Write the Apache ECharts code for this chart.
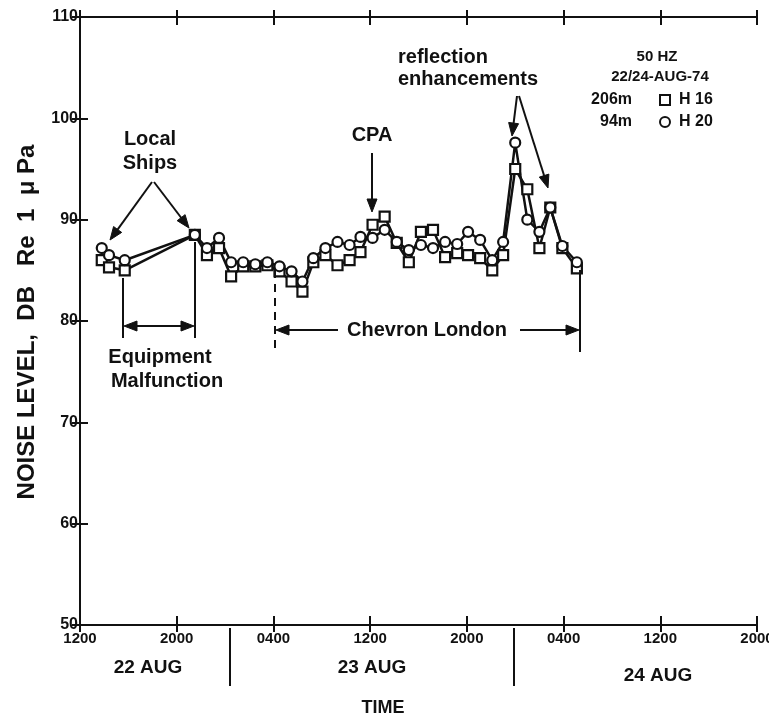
<!DOCTYPE html>
<html><head><meta charset="utf-8">
<script src="https://cdn.jsdelivr.net/npm/echarts@6/dist/echarts.min.js"></script>
<style>html,body{margin:0;padding:0;background:#fff}#c{width:769px;height:720px}</style>
</head><body><div id="c"></div>
<script>
// ---- data (hours after 22 AUG 1200) ----
const hours = [1.8, 2.4, 3.7, 9.5, 10.5, 11.5, 12.5, 13.5, 14.5, 15.5, 16.5, 17.5,
  18.4, 19.3, 20.3, 21.3, 22.3, 23.2, 24.2, 25.2, 26.2, 27.2, 28.2, 29.2, 30.2, 31.2,
  32.1, 33.1, 34.1, 35.0, 36.0, 37.0, 38.0, 38.9, 39.9, 41.1];
const h16 = [86.0, 85.3, 85.0, 88.5, 86.5, 87.2, 84.4, 85.4, 85.4, 85.5, 84.9, 83.9,
  82.9, 85.8, 86.5, 85.5, 86.0, 86.8, 89.5, 90.3, 87.7, 85.8, 88.8, 89.0, 86.3, 86.7,
  86.5, 86.2, 85.0, 86.5, 95.0, 93.0, 87.2, 91.2, 87.2, 85.2];
const h20 = [87.2, 86.5, 86.0, 88.5, 87.2, 88.2, 85.8, 85.8, 85.6, 85.8, 85.4, 84.9,
  83.9, 86.2, 87.2, 87.8, 87.5, 88.3, 88.2, 89.0, 87.8, 87.0, 87.5, 87.2, 87.8, 87.6,
  88.8, 88.0, 86.0, 87.8, 97.6, 90.0, 88.8, 91.2, 87.4, 85.8];
const xTickLabels = ['1200', '2000', '0400', '1200', '2000', '0400', '1200', '2000'];
const dayLabels = ['22 AUG', '23 AUG', '24 AUG'];
const seriesNames = ['206m  H 16', '94m  H 20'];

const INK = '#111';
const FONT = '"Liberation Sans", Arial, Helvetica, sans-serif';

function xAx(pos, inside, len, label, line) {
  return {
    type: 'value', position: pos, min: 0, max: 56, interval: 8, offset: 0,
    axisLine: { show: line, lineStyle: { color: INK, width: 2 } },
    axisTick: { show: true, inside: inside, length: len, lineStyle: { color: INK, width: 2 } },
    axisLabel: {
      show: label, margin: 6, color: INK, fontFamily: FONT, fontWeight: 'bold', fontSize: 15,
      formatter: v => xTickLabels[Math.round(v / 8)]
    },
    splitLine: { show: false }
  };
}
function yAx(pos, inside, len, label, line) {
  return {
    type: 'value', position: pos, min: 50, max: 110, interval: 10, offset: 0,
    axisLine: { show: line, lineStyle: { color: INK, width: 2 } },
    axisTick: { show: true, inside: inside, length: len, lineStyle: { color: INK, width: 2 } },
    axisLabel: { show: label, margin: 2, color: INK, fontFamily: FONT, fontWeight: 'bold', fontSize: 16 },
    splitLine: { show: false }
  };
}

function txt(t, x, y, size, align) {
  return {
    type: 'text', z: 100, x: x, y: y,
    style: { text: t, font: 'bold ' + size + 'px ' + FONT, fill: INK,
      align: align || 'center', verticalAlign: 'middle',
      textAlign: align || 'center', textVerticalAlign: 'middle' }
  };
}
function seg(x1, y1, x2, y2, dash) {
  return { type: 'line', z: 100, shape: { x1, y1, x2, y2 },
    style: { stroke: INK, lineWidth: 2, lineDash: dash || null } };
}
function arrow(x1, y1, x2, y2) {
  const L = 13, W = 5;
  const dx = x2 - x1, dy = y2 - y1, d = Math.hypot(dx, dy);
  const ux = dx / d, uy = dy / d;
  const bx = x2 - ux * L, by = y2 - uy * L;
  return [
    seg(x1, y1, bx + ux * 2, by + uy * 2),
    { type: 'polygon', z: 100, shape: { points: [[x2, y2], [bx - uy * W, by + ux * W], [bx + uy * W, by - ux * W]] },
      style: { fill: INK, stroke: INK, lineWidth: 1 } }
  ];
}

const graphics = [].concat(
  // y axis title
  [{ type: 'text', z: 100, x: 27, y: 322, rotation: Math.PI / 2,
     style: { text: 'NOISE LEVEL,  DB   Re  1  \u03bc Pa', font: 'bold 24px ' + FONT, fill: INK,
       align: 'center', verticalAlign: 'middle', textAlign: 'center', textVerticalAlign: 'middle' } }],
  // day labels + dividers
  [txt(dayLabels[0], 148, 668, 19), txt(dayLabels[1], 372, 668, 19), txt(dayLabels[2], 658, 676, 19),
   txt('TIME', 383, 708, 18),
   seg(230, 628, 230, 686), seg(514, 628, 514, 686)],
  // legend block
  [txt('50 HZ', 657, 57, 15), txt('22/24-AUG-74', 660, 77, 15),
   txt('206m', 632, 100, 16, 'right'), txt('H 16', 679, 100, 16, 'left'),
   txt('94m', 632, 122, 16, 'right'), txt('H 20', 679, 122, 16, 'left'),
   { type: 'rect', z: 100, shape: { x: 660, y: 95, width: 10, height: 10 }, style: { fill: '#fff', stroke: INK, lineWidth: 2 } },
   { type: 'circle', z: 100, shape: { cx: 665, cy: 122, r: 5 }, style: { fill: '#fff', stroke: INK, lineWidth: 2 } }],
  // Local Ships
  [txt('Local', 150, 139, 20), txt('Ships', 150, 163, 20)],
  arrow(152, 182, 110, 240), arrow(154, 182, 189, 228),
  // CPA
  [txt('CPA', 372, 135, 20)], arrow(372, 153, 372, 212),
  // reflection enhancements
  [txt('reflection', 398, 57, 20, 'left'), txt('enhancements', 398, 79, 20, 'left')],
  arrow(517, 96, 512, 136), arrow(519, 96, 548, 188),
  // Equipment Malfunction
  [seg(123, 278, 123, 338), seg(195, 242, 195, 338),
   txt('Equipment', 160, 357, 20), txt('Malfunction', 167, 381, 20)],
  arrow(160, 326, 124, 326), arrow(160, 326, 194, 326),
  // Chevron London
  [seg(275, 270, 275, 352, [8, 6]), seg(580, 270, 580, 352), txt('Chevron London', 427, 330, 20)],
  arrow(338, 330, 276, 330), arrow(520, 330, 579, 330)
);

function mk(vals) { return hours.map((h, i) => [h, vals[i]]); }

const chart = echarts.init(document.getElementById('c'), null, { renderer: 'canvas' });
chart.setOption({
  animation: false,
  backgroundColor: '#fff',
  grid: { left: 80, right: 12, top: 17, bottom: 95, containLabel: false, outerBoundsMode: 'none' },
  xAxis: [xAx('bottom', true, 9, true, true), xAx('bottom', false, 7, false, false),
          xAx('top', true, 8, false, true), xAx('top', false, 7, false, false)],
  yAxis: [yAx('left', true, 8, true, true), yAx('left', false, 8, false, false),
          yAx('right', true, 8, false, true), yAx('right', false, 8, false, false)],
  series: [
    { name: seriesNames[0], type: 'line', data: mk(h16), xAxisIndex: 0, yAxisIndex: 0,
      symbol: 'rect', symbolSize: 10, showAllSymbol: true,
      lineStyle: { color: INK, width: 2.5 },
      itemStyle: { color: '#fff', borderColor: INK, borderWidth: 2.2 } },
    { name: seriesNames[1], type: 'line', data: mk(h20), xAxisIndex: 0, yAxisIndex: 0,
      symbol: 'circle', symbolSize: 10, showAllSymbol: true,
      lineStyle: { color: INK, width: 2.5 },
      itemStyle: { color: '#fff', borderColor: INK, borderWidth: 2.2 } }
  ],
  graphic: graphics
});
</script></body></html>
